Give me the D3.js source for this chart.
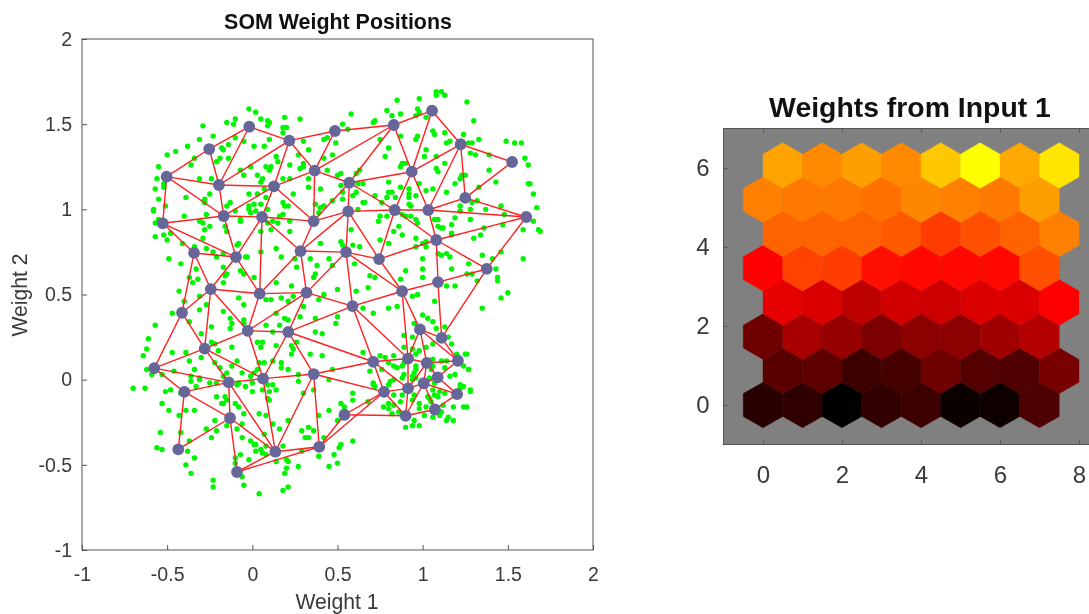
<!DOCTYPE html>
<html>
<head>
<meta charset="utf-8">
<script src="https://cdn.jsdelivr.net/npm/d3@7"></script>
<style>
  body { margin: 0; background: #fff; }
  svg { display: block; font-family: "Liberation Sans", Arial, sans-serif; filter: blur(0.45px); }
</style>
</head>
<body>
<svg></svg>
<script>
// input samples [weight 1, weight 2]
const samples = [
[-.02,1.59],[.02,1.57],[-.29,1.49],[-.15,1.51],[-.10,1.53],[-.11,1.50],[.05,1.53],[.09,1.52],[.10,1.51],[.09,1.49],[.19,1.54],[.28,1.53],[.18,1.48],[.20,1.48],[.18,1.45],[-.23,1.43],[-.31,1.41],[-.10,1.42],[-.05,1.40],[.10,1.41],[-.38,1.37],[-.14,1.38],[-.18,1.36],[-.17,1.35],[.01,1.37],[.07,1.37],[.30,1.40],[.33,1.35],[-.50,1.32],[-.45,1.34],[-.34,1.30],[-.36,1.26],[-.21,1.28],[-.19,1.30],[-.14,1.30],[.14,1.31],[.15,1.28],[.27,1.32],[.30,1.27],[.28,1.24],[-.55,1.25],[-.07,1.23],[-.01,1.25],[.08,1.25],[.11,1.25],[.10,1.23],[.22,1.26],[.30,1.25],[-.05,1.20],[.03,1.20],[.06,1.18],[.05,1.16],[.18,1.18],[.22,1.18],[.33,1.18],[-.56,1.18],[-.52,1.15],[-.52,1.13],[-.31,1.18],[-.24,1.18],[-.57,1.12],[.33,1.13],[-.55,1.06],[-.39,1.07],[-.28,1.06],[-.25,1.09],[-.28,1.04],[-.02,1.09],[.03,1.09],[.07,1.12],[.08,1.07],[.24,1.09],[-.13,1.04],[-.15,1.02],[-.02,1.02],[.01,1.03],[-.02,1.00],[.02,.99],[-.01,.98],[.05,1.03],[.09,1.00],[.18,1.04],[.19,1.02],[.21,1.02],[.37,1.03],[-.51,1.02],[-.58,1.00],[-.58,.99],[-.40,.96],[-.27,.97],[-.10,.99],[.16,.96],[.18,.97],[.39,.98],[-.55,.94],[-.57,.92],[-.31,.93],[-.29,.92],[-.07,.94],[-.07,.93],[.09,.92],[.12,.93],[.15,.92],[.22,.93],[-.16,.90],[-.25,.90],[-.28,.88],[-.15,.87],[.11,.88],[.05,.87],[.22,.87],[-.57,.84],[-.52,.85],[-.48,.86],[-.50,.82],[-.29,.83],[-.08,.80],[-.09,.79],[-.41,.80],[-.34,.78],[-.27,.77],[-.23,.75],[-.21,.72],[-.17,.74],[-.03,.72],[-.04,.72],[.05,.75],[.14,.77],[.17,.72],[.25,.71],[.29,.74],[.34,.71],[.38,.67],[-.49,.71],[-.42,.68],[-.33,.65],[-.17,.66],[-.15,.62],[-.16,.61],[-.07,.64],[-.05,.62],[.01,.60],[.26,.66],[.37,.62],[.36,.60],[-.37,.60],[-.32,.59],
[1.08,1.69],[1.11,1.69],[1.13,1.67],[1.08,1.67],[.98,1.65],[.85,1.64],[1.26,1.63],[.58,1.56],[.79,1.58],[.87,1.56],[.97,1.59],[.98,1.57],[.82,1.55],[1.30,1.52],[.53,1.50],[.72,1.52],[.71,1.51],[.56,1.47],[.96,1.55],[1.02,1.54],[1.06,1.46],[1.07,1.44],[1.13,1.45],[1.24,1.44],[1.33,1.41],[1.16,1.40],[1.14,1.39],[1.29,1.39],[1.27,1.39],[1.49,1.40],[1.54,1.39],[1.58,1.39],[.42,1.41],[.44,1.42],[.49,1.39],[.75,1.41],[.87,1.43],[.97,1.43],[.96,1.41],[.80,1.36],[1.02,1.35],[.78,1.31],[1.01,1.31],[1.08,1.31],[1.60,1.30],[1.13,1.27],[1.28,1.33],[1.31,1.32],[1.39,1.32],[1.62,1.26],[.47,1.32],[.42,1.30],[.88,1.27],[.90,1.27],[.87,1.25],[1.08,1.24],[1.09,1.22],[1.39,1.23],[.44,1.23],[.52,1.21],[.50,1.20],[.63,1.23],[.61,1.21],[1.23,1.20],[1.25,1.20],[1.22,1.18],[1.33,1.13],[1.43,1.16],[.80,1.16],[1.19,1.15],[1.62,1.15],[1.63,1.15],[.40,1.12],[.52,1.14],[.62,1.15],[.65,1.15],[.87,1.13],[.98,1.15],[.92,1.12],[1.02,1.11],[1.06,1.12],[1.14,1.10],[1.65,1.09],[.61,1.10],[.59,1.08],[.53,1.10],[.53,1.06],[.47,1.05],[.42,1.02],[.40,1.01],[.66,1.04],[.65,1.04],[.72,1.08],[.80,1.10],[.79,1.07],[.82,1.10],[.84,1.07],[.92,1.09],[.92,1.07],[.96,1.08],[.92,1.03],[.93,1.02],[.88,.97],[.76,1.04],[1.22,1.02],[1.29,1.04],[1.32,1.05],[1.28,1.00],[1.37,1.00],[1.46,1.02],[1.67,1.01],[1.48,.97],[.62,1.00],[1.22,.99],[1.19,.95],[1.07,.94],[1.09,.94],[.79,.96],[.75,.96],[.74,.93],[.90,.96],[.93,.96],[.96,.94],[.97,.92],[1.28,.94],[1.17,.91],[1.47,.91],[1.65,.93],[1.68,.88],[1.69,.87],[.58,.88],[.52,.81],[.86,.90],[.83,.87],[1.36,.89],[1.59,.88],[1.11,.89],[1.09,.90],[1.12,.89],[1.17,.86],[1.17,.85],[.88,.85],[.96,.83],[1.30,.83],[1.34,.85],[.75,.82],[.80,.80],[.59,.79],[.63,.78],[1.02,.81],[1.00,.80],[1.02,.78],[.53,.79],[.96,.78],[1.09,.74],[1.11,.73],[1.14,.74],[1.16,.72],[1.35,.73],[1.41,.71],[1.46,.75],[1.59,.71],[1.27,.68],[1.43,.65],[.45,.71],[.60,.68],[1.00,.71],[1.17,.65],[1.00,.65],[.90,.64],[.69,.61],[.72,.60],[1.26,.62],[1.29,.62],[1.44,.60],[1.00,.60],[.47,.67],[.40,.80],[.87,.59],
[-.43,.52],[-.35,.57],[-.17,.57],[.14,.57],[.23,.55],[.50,.53],[-.40,.46],[-.31,.49],[-.08,.48],[-.05,.44],[.08,.47],[.11,.47],[.17,.48],[.21,.46],[.24,.49],[.39,.47],[.42,.50],[-.47,.39],[-.31,.41],[-.27,.44],[-.17,.40],[-.13,.36],[-.12,.33],[-.13,.30],[-.05,.35],[-.05,.33],[-.57,.32],[-.37,.34],[-.24,.31],[.08,.32],[.14,.39],[.19,.36],[.16,.32],[.21,.35],[.30,.43],[.28,.37],[.37,.36],[.49,.33],[.50,.37],[-.61,.24],[-.30,.27],[.12,.28],[.37,.28],[.41,.27],[-.24,.22],[-.22,.21],[.03,.22],[.06,.22],[.26,.22],[.05,.19],[.14,.20],[.23,.20],[.24,.18],[-.62,.18],[-.47,.16],[-.39,.16],[-.12,.19],[-.20,.17],[-.30,.13],[-.64,.14],[-.37,.11],[-.09,.11],[.23,.15],[.34,.15],[.41,.14],[.04,.10],[.07,.10],[.12,.11],[.17,.10],[.17,.07],[-.22,.10],[-.34,.06],[-.12,.08],[.21,.06],[-.06,.04],[-.62,.06],[-.59,.03],[-.53,.03],[-.46,.05],[-.19,.07],[-.15,.04],[-.17,.02],[.03,.06],[.01,.04],[-.01,.02],[.47,.06],[-.36,.02],[-.31,.01],[-.36,-.01],[-.31,.00],[-.21,-.02],[-.08,-.02],[-.04,-.04],[.00,-.02],[.09,-.03],[.12,-.03],[.27,.03],[.27,-.01],[.45,.00],[-.33,-.04],[-.25,-.02],[-.09,-.03],[-.51,-.07],[-.48,-.06],[-.42,-.08],[.00,-.07],[.06,-.06],[.10,-.07],[.14,-.06],[.30,-.08],[.36,-.06],[-.21,-.10],[-.16,-.10],[-.15,-.12],[-.17,-.14],[.09,-.11],[-.18,-.14],[-.10,-.14],[-.08,-.16],[-.53,-.14],[-.49,-.18],[-.43,-.21],[-.39,-.18],[-.34,-.18],[-.05,-.20],[.04,-.20],[.08,-.21],[.39,-.21],[.45,-.18],[.52,-.14],[.54,-.16],[-.22,-.24],[-.15,-.27],[-.06,-.26],[.12,-.26],[.07,-.32],[.21,-.24],[.16,-.29],[.50,-.24],[-.09,-.29],[-.54,-.31],[-.42,-.31],[-.27,-.29],[-.21,-.30],[-.24,-.34],[-.06,-.34],[.29,-.30],[.33,-.28],[.36,-.30],[.31,-.34],[.33,-.34],[.42,-.34],[.52,-.38],[.51,-.40],[-.01,-.36],[.01,-.38],[.02,-.38],[.08,-.39],[.18,-.39],[.05,-.41],[.06,-.43],[-.56,-.40],[-.53,-.41],[-.37,-.36],[-.38,-.42],[.02,-.42],[.29,-.42],[.48,-.44],[-.34,-.46],[-.07,-.44],[-.10,-.46],[-.10,-.49],[-.02,-.47],[.08,-.44],[.20,-.47],[.21,-.48],[-.39,-.50],[.27,-.51],[.50,-.49],[.45,-.51],[.20,-.52],[.19,-.55],[-.36,-.55],[-.06,-.57],[-.23,-.59],[-.23,-.63],[-.05,-.62],[.04,-.67],[.18,-.65],[.21,-.63],[.39,-.45],[.12,-.42],[.10,-.12],[.14,-.48],[-.70,-.05],[-.63,-.05],
[.68,.54],[.61,.52],[.94,.49],[.97,.50],[1.07,.46],[1.14,.55],[1.19,.55],[.80,.42],[.85,.43],[1.35,.42],[1.46,.48],[1.50,.51],[1.44,.58],[1.32,.58],[.65,.42],[.71,.39],[1.00,.38],[1.03,.36],[1.06,.34],[.95,.33],[1.13,.31],[1.08,.30],[.89,.26],[.94,.25],[1.15,.25],[1.06,.21],[1.17,.21],[.94,.18],[.89,.19],[1.02,.19],[.98,.17],[.96,.15],[1.20,.15],[1.25,.15],[1.26,.15],[.65,.16],[.75,.14],[.78,.13],[.83,.14],[1.24,.08],[1.27,.06],[.83,.08],[.89,.10],[.88,.08],[.85,.07],[.80,.10],[.96,.08],[.96,.06],[.95,.04],[.94,.02],[1.06,.12],[1.11,.11],[1.14,.11],[1.06,.08],[1.13,.07],[1.16,.02],[1.19,.03],[1.05,.06],[1.04,.01],[1.07,-.02],[.69,.05],[.76,.06],[.89,.03],[.88,.01],[.83,.00],[.81,-.01],[.80,-.03],[.71,-.03],[.71,-.02],[.72,-.04],[.96,.01],[.94,.00],[1.22,-.03],[1.24,-.04],[1.22,-.05],[1.28,-.06],[1.28,-.07],[1.13,-.08],[1.06,-.06],[1.03,-.10],[1.07,-.09],[1.10,-.07],[1.04,-.11],[.88,-.09],[.83,-.09],[.95,-.09],[1.02,-.16],[1.05,-.13],[1.09,-.10],[1.12,-.15],[1.18,-.16],[1.24,-.16],[1.26,-.16],[.77,-.16],[.80,-.14],[.80,-.17],[.83,-.15],[.87,-.13],[.94,-.12],[.98,-.14],[.98,-.17],[1.01,-.21],[1.06,-.22],[1.11,-.19],[1.10,-.21],[1.15,-.22],[1.14,-.24],[1.18,-.24],[.90,-.28],[.94,-.27],[.98,-.27],[.86,-.19],[.82,-.20],[.95,-.24],[.59,-.08],[.59,-.12],[.68,-.13],[.59,-.36]
]

// SOM neuron positions
const neurons = [
[-.018,1.485],[-.253,1.354],[-.503,1.192],[.217,1.403],[.366,1.227],[-.196,1.143],[.127,1.135],[-.168,.961],[.057,.955],[-.526,.918],
[.360,.931],[-.342,.744],[-.096,.720],[.283,.755],[.485,1.460],[.830,1.495],[1.055,1.579],[1.223,1.382],[1.525,1.278],[.936,1.221],
[.569,1.156],[.563,.988],[.836,.996],[1.033,.996],[1.250,1.067],[1.608,.955],[1.080,.820],[.744,.708],[.550,.749],[1.376,.650],
[1.090,.573],[-.244,.532],[.043,.505],[.318,.511],[.588,.432],[-.413,.393],[-.027,.287],[.211,.280],[-.280,.182],[-.576,.068],
[-.139,-.016],[.063,.006],[.360,.033],[-.399,-.072],[-.131,-.225],[.541,-.206],[.135,-.423],[.393,-.394],[-.435,-.409],[-.090,-.542],
[.879,.519],[.984,.295],[1.111,.245],[.710,.105],[.914,.124],[1.024,.098],[1.207,.111],[1.088,.014],[1.006,-.021],[.914,-.051],
[.773,-.072],[1.202,-.085],[1.072,-.175],[.900,-.212]
]

// neighbour links, pairs of neuron indexes
const links = [
[0,1],[0,3],[0,5],[1,2],[1,5],[2,5],[2,9],[2,7],[3,4],[3,6],[3,5],[3,14],[4,6],[4,10],[4,15],[4,14],[4,20],[5,6],[5,7],[6,7],[6,8],[6,10],[7,8],[7,9],[7,12],[8,12],[8,10],[8,13],[8,32],[9,11],[9,12],[11,12],[10,13],[10,21],[10,20],[13,21],[13,28],[13,33],[13,32],[14,15],[15,16],[15,19],[15,20],[16,19],[16,17],[17,19],[17,23],[17,24],[17,18],[18,24],[19,20],[19,22],[19,23],[20,21],[20,22],[21,22],[21,28],[21,27],[22,23],[22,26],[22,27],[23,24],[23,25],[23,26],[24,25],[25,26],[25,29],[26,27],[26,29],[26,30],[27,28],[27,50],[28,33],[28,34],[28,50],[29,30],[29,52],[30,50],[30,52],[11,31],[11,35],[12,31],[12,32],[31,32],[31,35],[31,36],[31,38],[32,33],[32,36],[33,34],[33,36],[33,37],[34,37],[36,37],[36,38],[36,41],[37,41],[37,42],[37,53],[35,38],[35,39],[38,39],[38,40],[38,41],[39,40],[39,43],[40,41],[40,43],[40,44],[40,46],[41,42],[41,46],[42,46],[42,47],[42,53],[42,60],[43,44],[43,48],[44,48],[44,46],[44,49],[46,47],[46,49],[47,49],[47,45],[47,60],[45,60],[45,63],[60,63],[60,59],[60,53],[34,50],[34,53],[34,54],[50,54],[50,51],[51,52],[51,54],[51,55],[51,56],[52,56],[53,54],[53,59],[54,55],[54,59],[55,56],[55,57],[55,58],[55,59],[56,57],[57,58],[57,61],[58,59],[58,61],[58,62],[58,63],[59,63],[61,62],[62,63]
]

// weights from input 1, 0 = darkest, 1 = brightest, bottom row first
const weightRows = [
[.08,.095,0,.10,.12,.02,.03,.15],
[.175,.185,.12,.135,.215,.165,.155,.235],
[.215,.33,.295,.245,.275,.275,.315,.35],
[.45,.43,.37,.41,.40,.43,.43,.50],
[.50,.63,.62,.53,.515,.515,.515,.655],
[.695,.695,.695,.675,.62,.655,.695,.75],
[.75,.735,.735,.72,.765,.75,.735,.81],
[.82,.77,.81,.77,.89,1,.83,.95]
]

const posTicks = [-1,-0.5,0,0.5,1,1.5,2]
const hexXTicks = [0,2,4,6,8]
const hexYTicks = [0,2,4,6]

const width = 1089
const height = 614

const svg = d3.select('svg')
  .attr('width', width)
  .attr('height', height)

// ---- left plot ----
const x = d3.scaleLinear().domain([-1, 2]).range([82, 593])
const y = d3.scaleLinear().domain([-1, 2]).range([550, 39])

const axisColor = '#555'
const textColor = '#3a3a3a'

function styleAxis(g, size) {
  g.selectAll('.domain').remove()
  g.selectAll('line').attr('stroke', axisColor)
  g.selectAll('text').attr('fill', textColor).style('font-size', size + 'px')
}

const left = svg.append('g')

left.append('g').selectAll('circle')
  .data(samples)
  .enter().append('circle')
    .attr('cx', d => x(d[0]))
    .attr('cy', d => y(d[1]))
    .attr('r', 2.7)
    .attr('fill', '#00f500')

left.append('g').selectAll('line')
  .data(links)
  .enter().append('line')
    .attr('x1', d => x(neurons[d[0]][0]))
    .attr('y1', d => y(neurons[d[0]][1]))
    .attr('x2', d => x(neurons[d[1]][0]))
    .attr('y2', d => y(neurons[d[1]][1]))
    .attr('stroke', '#ff2020')
    .attr('stroke-width', 1.4)

left.append('g').selectAll('circle')
  .data(neurons)
  .enter().append('circle')
    .attr('cx', d => x(d[0]))
    .attr('cy', d => y(d[1]))
    .attr('r', 5.9)
    .attr('fill', '#666699')

left.append('rect')
  .attr('x', 82).attr('y', 39).attr('width', 511).attr('height', 511)
  .attr('fill', 'none').attr('stroke', axisColor)

left.append('g')
  .attr('transform', 'translate(0,550)')
  .call(d3.axisBottom(x).tickValues(posTicks).tickFormat(String).tickSizeInner(-5).tickPadding(17))
  .call(g => styleAxis(g, 19.5))

left.append('g')
  .attr('transform', 'translate(82,0)')
  .call(d3.axisLeft(y).tickValues(posTicks).tickFormat(String).tickSizeInner(-5).tickPadding(10))
  .call(g => styleAxis(g, 19.5))

left.append('text')
  .attr('x', 338).attr('y', 29)
  .attr('text-anchor', 'middle')
  .attr('font-weight', 'bold')
  .attr('font-size', 21.4)
  .attr('fill', '#111')
  .text('SOM Weight Positions')

left.append('text')
  .attr('x', 337).attr('y', 609)
  .attr('text-anchor', 'middle')
  .attr('font-size', 21.2)
  .attr('fill', textColor)
  .text('Weight 1')

left.append('text')
  .attr('transform', 'translate(27,295) rotate(-90)')
  .attr('text-anchor', 'middle')
  .attr('font-size', 21.2)
  .attr('fill', textColor)
  .text('Weight 2')

// ---- right plot ----
const hx = d3.scaleLinear().domain([-1, 8.5]).range([723.5, 1098.75])
const hy = d3.scaleLinear().domain([-1, 7]).range([444.5, 128.5])

const rowStep = Math.sqrt(3) / 2
const hexRadius = 1 / Math.sqrt(3)
const corners = d3.range(6).map(i => [
  hexRadius * Math.sin(i * Math.PI / 3),
  hexRadius * Math.cos(i * Math.PI / 3)
])
const heat = d3.scaleLinear().domain([0, 0.5, 1]).range(['#000000', '#ff0000', '#ffff00'])

const cells = weightRows.flatMap((row, r) => row.map((v, c) => ({
  cx: c + (r % 2 ? 0.5 : 0),
  cy: r * rowStep,
  v: v
})))

const right = svg.append('g')

right.append('rect')
  .attr('x', hx(-1)).attr('y', hy(7))
  .attr('width', hx(8.5) - hx(-1)).attr('height', hy(-1) - hy(7))
  .attr('fill', '#808080').attr('stroke', axisColor)

right.append('g').selectAll('path')
  .data(cells)
  .enter().append('path')
    .attr('d', d => d3.line()(corners.map(p => [hx(d.cx + p[0]), hy(d.cy + p[1])])) + 'Z')
    .attr('fill', d => heat(d.v))
    .attr('stroke', d => heat(d.v))
    .attr('stroke-width', 0.4)

right.append('g')
  .attr('transform', 'translate(0,444.5)')
  .call(d3.axisBottom(hx).tickValues(hexXTicks).tickFormat(d3.format('d')).tickSizeInner(-4).tickPadding(21))
  .call(g => styleAxis(g, 24))

right.append('g')
  .attr('transform', 'translate(0,128.5)')
  .call(d3.axisTop(hx).tickValues(hexXTicks).tickFormat('').tickSizeInner(-4))
  .call(g => styleAxis(g, 24))

right.append('g')
  .attr('transform', 'translate(723.5,0)')
  .call(d3.axisLeft(hy).tickValues(hexYTicks).tickFormat(d3.format('d')).tickSizeInner(-4).tickPadding(14))
  .call(g => styleAxis(g, 24))

right.append('text')
  .attr('x', 910).attr('y', 117)
  .attr('text-anchor', 'middle')
  .attr('font-weight', 'bold')
  .attr('font-size', 28.4)
  .attr('fill', '#111')
  .text('Weights from Input 1')
</script>
</body>
</html>
